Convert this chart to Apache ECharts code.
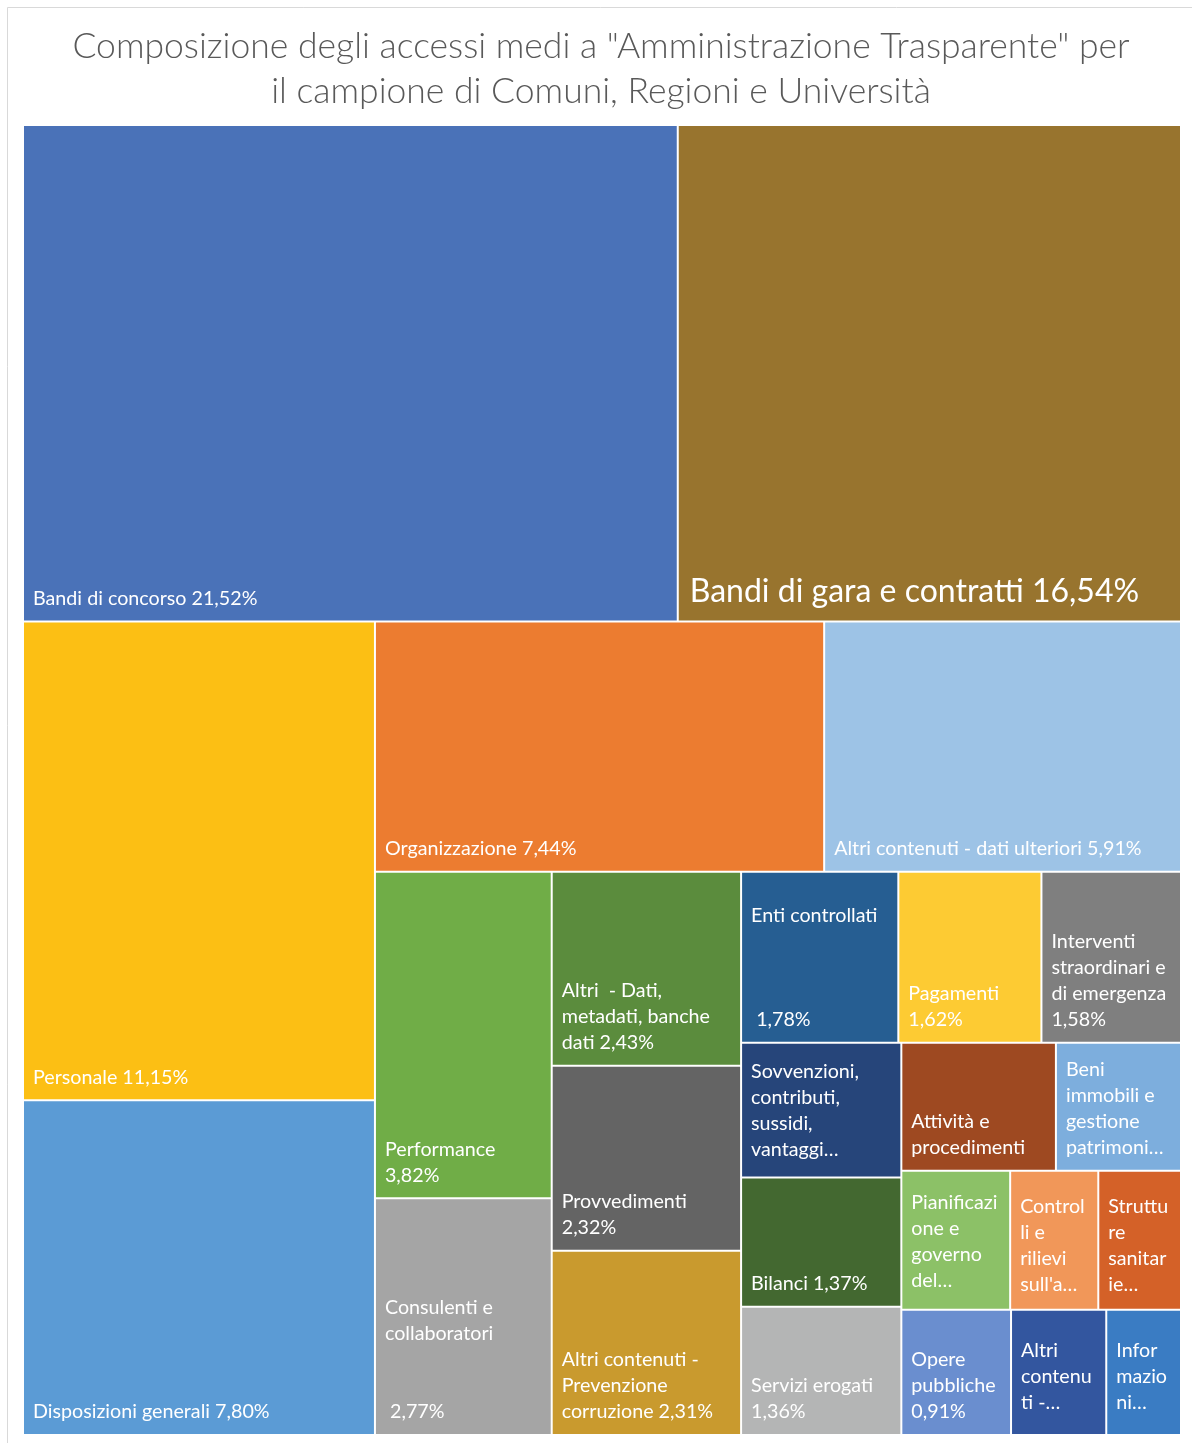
<!DOCTYPE html>
<html>
<head>
<meta charset="utf-8">
<script src="https://cdn.jsdelivr.net/npm/echarts@6/dist/echarts.min.js"></script>
<style>
  html, body { margin: 0; padding: 0; background: #ffffff; }
  #chart { width: 1192px; height: 1443px; }
</style>
</head>
<body>
<div id="chart"></div>
<script>
// Sections of "Amministrazione Trasparente"
const categories = [
  'Bandi di concorso',
  'Bandi di gara e contratti',
  'Personale',
  'Disposizioni generali',
  'Organizzazione',
  'Altri contenuti - dati ulteriori',
  'Performance',
  'Consulenti e collaboratori',
  'Altri - Dati, metadati, banche dati',
  'Provvedimenti',
  'Altri contenuti - Prevenzione corruzione',
  'Enti controllati',
  'Pagamenti',
  'Interventi straordinari e di emergenza',
  'Sovvenzioni, contributi, sussidi, vantaggi economici',
  'Bilanci',
  'Servizi erogati',
  'Attività e procedimenti',
  'Beni immobili e gestione patrimonio',
  'Pianificazione e governo del territorio',
  "Controlli e rilievi sull'amministrazione",
  'Strutture sanitarie private accreditate',
  'Opere pubbliche',
  'Altri contenuti - Accesso civico',
  'Informazioni ambientali'
];

// Share of average accesses (%)
const shares = [
  21.52, 16.54, 11.15, 7.80, 7.44, 5.91, 3.82, 2.77, 2.43, 2.32, 2.31,
  1.78, 1.62, 1.58, 1.43, 1.37, 1.36, 1.31, 1.06, 1.00, 0.81, 0.76,
  0.91, 0.79, 0.62
];

// Text shown in each cell ({v} is replaced by the formatted share)
const cellText = [
  'Bandi di concorso {v}',
  'Bandi di gara e contratti {v}',
  'Personale {v}',
  'Disposizioni generali {v}',
  'Organizzazione {v}',
  'Altri contenuti - dati ulteriori {v}',
  'Performance\n{v}',
  'Consulenti e\ncollaboratori\n\n\n {v}',
  'Altri  - Dati,\nmetadati, banche\ndati {v}',
  'Provvedimenti\n{v}',
  'Altri contenuti -\nPrevenzione\ncorruzione {v}',
  'Enti controllati\n\n\n\n {v}',
  'Pagamenti\n{v}',
  'Interventi\nstraordinari e\ndi emergenza\n{v}',
  'Sovvenzioni,\ncontributi,\nsussidi,\nvantaggi…',
  'Bilanci {v}',
  'Servizi erogati\n{v}',
  'Attività e\nprocedimenti',
  'Beni\nimmobili e\ngestione\npatrimoni…',
  'Pianificazi\none e\ngoverno\ndel…',
  "Control\nli e\nrilievi\nsull'a…",
  'Struttu\nre\nsanitar\nie…',
  'Opere\npubbliche\n{v}',
  'Altri\ncontenu\nti -…',
  'Infor\nmazio\nni…'
];

const cellColors = [
  '#4A72B8', '#98742E', '#FCBF14', '#5B9BD5', '#EC7C30', '#9DC3E6',
  '#70AD47', '#A5A5A5', '#5B8C3D', '#646464', '#C99A2E',
  '#265E92', '#FDCB33', '#7F7F7F', '#26457A', '#436830', '#B4B5B5',
  '#9E4921', '#7DAEDD', '#8CC167', '#F19759', '#D46128',
  '#6A8ECF', '#33569F', '#3A7CC3'
];

// Grouping of the sections into blocks (indices into the arrays above)
const nesting = [0, 1, 2, 3,
  [4, 5,
    [[6, 7],
      [[8, 9, 10],
        [11, 12, 13, 14, 15, 16,
          [[[17, 18], [19, 20, 21]], 22, 23, 24]]]]]];

const fmtShare = v => v.toFixed(2).replace('.', ',') + '%';

// label tweaks for a few cells
const bigLabel = { 1: true };
const extraLift = { 14: 5, 19: 6, 20: 2, 21: 2, 23: 9, 24: 9 };

function buildNode(n) {
  if (Array.isArray(n)) {
    return { name: '', children: n.map(buildNode) };
  }
  const item = {
    name: categories[n],
    value: shares[n],
    cell: n,
    itemStyle: { color: cellColors[n], borderWidth: 1, borderColor: '#ffffff' }
  };
  if (bigLabel[n]) {
    item.label = { fontSize: 32, lineHeight: 40, padding: [0, 9, 9, 11] };
  } else if (extraLift[n]) {
    item.label = { padding: [0, 9, 9 + extraLift[n], 9] };
  }
  return item;
}

const chart = echarts.init(document.getElementById('chart'), null, { renderer: 'canvas' });

chart.setOption({
  animation: false,
  backgroundColor: '#ffffff',
  title: {
    text: 'Composizione degli accessi medi a "Amministrazione Trasparente" per\nil campione di Comuni, Regioni e Università',
    left: 601,
    top: 24,
    textAlign: 'center',
    padding: 0,
    textStyle: {
      fontFamily: 'Lato',
      fontWeight: 300,
      fontSize: 35.5,
      lineHeight: 45,
      color: '#595959'
    }
  },
  graphic: [{
    type: 'rect',
    silent: true,
    shape: { x: 7.5, y: 7.5, width: 1200, height: 1450 },
    style: { fill: 'none', stroke: '#d9d9d9', lineWidth: 1 }
  }],
  series: [{
    type: 'treemap',
    left: 23,
    top: 125,
    width: 1158,
    height: 1310,
    roam: false,
    nodeClick: false,
    sort: false,
    squareRatio: 1.082,
    breadcrumb: { show: false },
    itemStyle: { borderWidth: 0, gapWidth: 0, borderColor: '#ffffff' },
    label: {
      show: true,
      position: 'insideBottomLeft',
      fontFamily: 'Lato',
      fontSize: 19.7,
      lineHeight: 26,
      color: '#ffffff',
      padding: [0, 9, 9, 9],
      overflow: 'none',
      formatter: p => {
        const d = p.data;
        if (!d || d.cell == null) return '';
        return cellText[d.cell].replace('{v}', fmtShare(shares[d.cell]));
      }
    },
    upperLabel: { show: false },
    emphasis: { disabled: true },
    data: nesting.map(buildNode)
  }]
});
</script>
</body>
</html>
